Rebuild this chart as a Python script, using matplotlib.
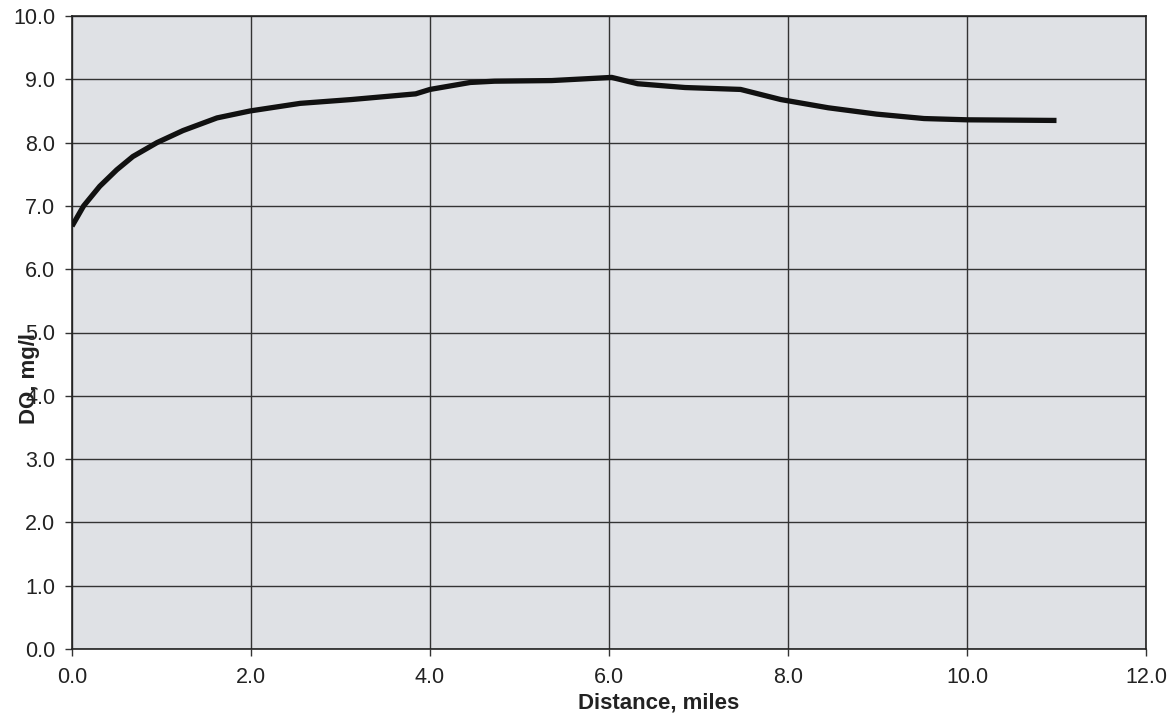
import matplotlib
matplotlib.use("Agg")
import matplotlib.pyplot as plt

distance = [0.0, 0.13, 0.31, 0.50, 0.68, 0.95, 1.24, 1.62, 1.99, 2.55, 3.12, 3.84,
            4.0, 4.45, 4.72, 5.36, 6.03, 6.32, 6.85, 7.47, 7.92, 8.45, 8.99, 9.52,
            10.0, 11.0]
do_mgl = [6.68, 7.0, 7.31, 7.57, 7.78, 8.0, 8.19, 8.39, 8.50, 8.62, 8.68, 8.77,
          8.84, 8.95, 8.97, 8.98, 9.03, 8.93, 8.87, 8.84, 8.68, 8.55, 8.45, 8.38,
          8.36, 8.35]
x_ticks = [0, 2, 4, 6, 8, 10, 12]
y_ticks = [0, 1, 2, 3, 4, 5, 6, 7, 8, 9, 10]

plt.rcParams['font.family'] = ['Liberation Sans', 'DejaVu Sans']

fig = plt.figure(figsize=(11.75, 7.13), dpi=100)
ax = fig.add_axes([72/1175, 1-649/713, (1146-72)/1175, (649-16)/713])
ax.set_facecolor('#dfe1e5')

ax.plot(distance, do_mgl, color='#111111', lw=3.8, solid_capstyle='butt', zorder=3)

ax.set_xlim(0, 12)
ax.set_ylim(0, 10)
ax.set_xticks(x_ticks)
ax.set_yticks(y_ticks)
ax.set_xticklabels([f"{v:.1f}" for v in x_ticks])
ax.set_yticklabels([f"{v:.1f}" for v in y_ticks])
ax.tick_params(axis='both', labelsize=15.5, direction='out', length=5, width=1,
               color='#333333', labelcolor='#222222')
ax.tick_params(axis='x', pad=8)
ax.tick_params(axis='y', pad=7)
ax.grid(True, color='#333333', lw=1.0, zorder=1)
ax.set_axisbelow(True)
for s in ax.spines.values():
    s.set_color('#222222')
    s.set_linewidth(1.2)

fig.text(659/1175, 1-703/713, 'Distance, miles', ha='center', va='center',
         fontsize=16, fontweight='bold', color='#222222')
fig.text(30/1175, 1-378/713, 'DO, mg/l', ha='center', va='center', rotation=90,
         fontsize=16, fontweight='bold', color='#222222')

fig.savefig('out.png', dpi=100, facecolor='white')
